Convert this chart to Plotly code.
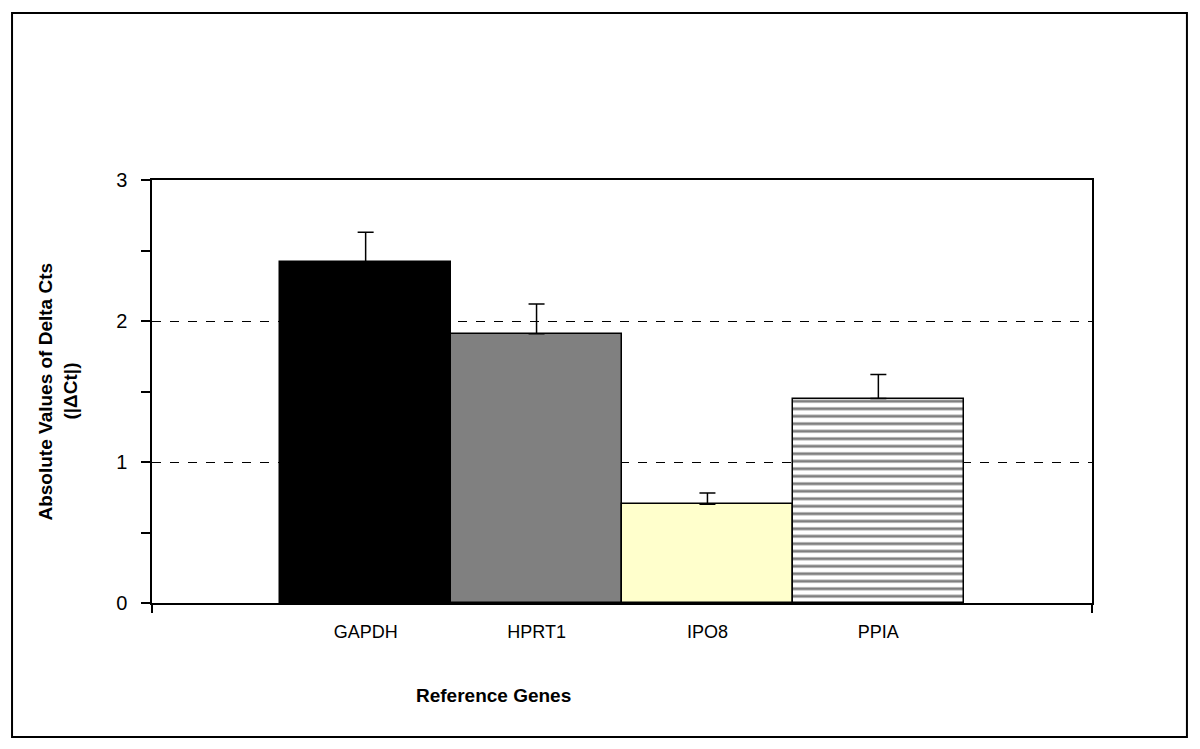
import plotly.graph_objects as go

genes = ["GAPDH", "HPRT1", "IPO8", "PPIA"]
delta_ct = [2.42, 1.91, 0.70, 1.45]
err_up = [0.21, 0.21, 0.08, 0.17]
bar_colors = ["#000000", "#808080", "#FFFFCC", "#FFFFFF"]
bar_patterns = ["", "", "", "-"]

x_pos = list(range(len(genes)))
FONT = "Liberation Sans, Arial, sans-serif"

fig = go.Figure()
for i, gene in enumerate(genes):
    pattern = dict(shape=bar_patterns[i], fgcolor="black", size=7.5, solidity=0.38) \
        if bar_patterns[i] else None
    fig.add_trace(
        go.Bar(
            x=[x_pos[i]],
            y=[delta_ct[i]],
            name=gene,
            width=1,
            marker=dict(
                color=bar_colors[i],
                line=dict(color="black", width=1.5),
                pattern=pattern,
            ),
            error_y=dict(
                type="data",
                symmetric=False,
                array=[err_up[i]],
                arrayminus=[0],
                color="black",
                thickness=1.5,
                width=8,
            ),
            showlegend=False,
        )
    )

fig.update_xaxes(
    range=[-1.25, len(genes) + 0.25],
    tickvals=x_pos,
    ticktext=genes,
    ticks="",
    ticklabelstandoff=12,
    tickfont=dict(family=FONT, size=18, color="black"),
    showline=True,
    linecolor="black",
    linewidth=1.5,
    mirror=True,
    showgrid=False,
    zeroline=False,
    minor=dict(tickvals=[-1.25, len(genes) + 0.25], ticks="outside", ticklen=8,
               tickcolor="black", tickwidth=1.5),
)
fig.update_yaxes(
    range=[0, 3],
    dtick=1,
    ticks="outside",
    ticklen=9,
    tickwidth=1.5,
    tickcolor="black",
    ticklabelstandoff=10,
    tickfont=dict(family=FONT, size=20, color="black"),
    showline=True,
    linecolor="black",
    linewidth=1.5,
    mirror=True,
    showgrid=True,
    gridcolor="black",
    gridwidth=1.2,
    griddash="dash",
    zeroline=False,
    minor=dict(dtick=0.5, ticks="outside", ticklen=9, tickcolor="black",
               tickwidth=1.5, showgrid=False),
)

# y-axis title (two lines) and x-axis title
fig.add_annotation(text="<b>Absolute Values of Delta Cts</b>", xref="paper", yref="paper",
                   x=-0.1138, y=0.5, xanchor="center", yanchor="middle",
                   textangle=-90, showarrow=False,
                   font=dict(family=FONT, size=19, color="black"))
fig.add_annotation(text="<b>(|ΔCt|)</b>", xref="paper", yref="paper",
                   x=-0.0872, y=0.5, xanchor="center", yanchor="middle",
                   textangle=-90, showarrow=False,
                   font=dict(family=FONT, size=19, color="black"))
fig.add_annotation(text="<b>Reference Genes</b>", xref="paper", yref="paper",
                   x=0.3628, y=-0.2175, xanchor="center", yanchor="middle",
                   showarrow=False,
                   font=dict(family=FONT, size=19, color="black"))

# outer chart border
fig.add_shape(type="rect", xref="paper", yref="paper",
              x0=-0.1489, x1=1.101, y0=-0.3168, y1=1.3948,
              line=dict(color="black", width=2), layer="below")

# the page body adds an 8px margin, so the figure is 16px smaller than the window
fig.update_layout(
    width=1184,
    height=733,
    margin=dict(l=144, r=100, t=172, b=138),
    plot_bgcolor="white",
    paper_bgcolor="white",
    barmode="overlay",
    bargap=0,
)

fig.write_html("out.html")
